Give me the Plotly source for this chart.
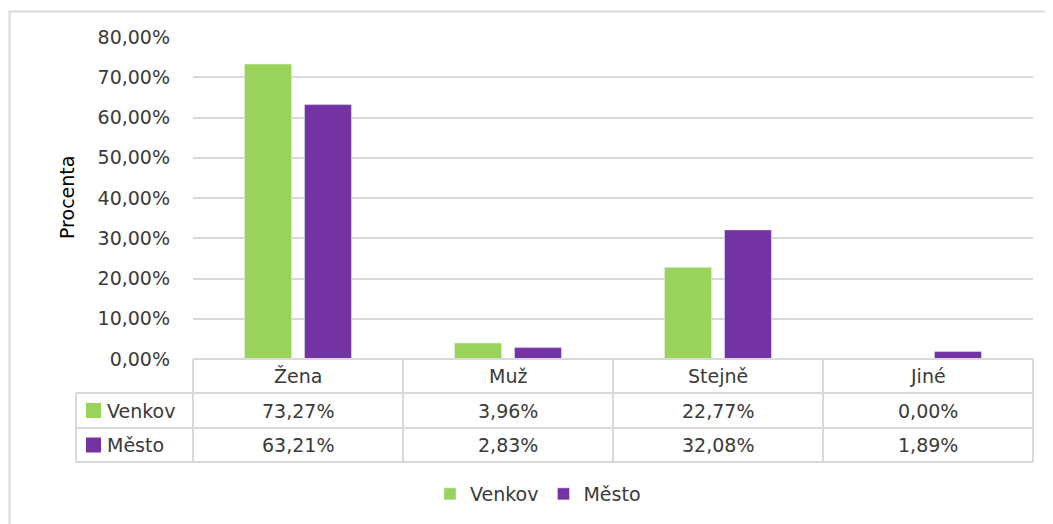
import plotly.graph_objects as go

categories = ["Žena", "Muž", "Stejně", "Jiné"]
venkov = [73.27, 3.96, 22.77, 0.00]
mesto = [63.21, 2.83, 32.08, 1.89]
series_names = ["Venkov", "Město"]
y_ticks = [0, 10, 20, 30, 40, 50, 60, 70, 80]
y_title = "Procenta"

OFF = 8  # page body margin
W, H = 1053 - OFF, 524 - OFF
GREEN = "#99D35B"
PURPLE = "#7433A2"
TXT = "#3A3A3A"
GRID = "#D9D9D9"
FONT = "DejaVu Sans"
FS = 19


def px(x):
    return (x - OFF) / W


def py(y):
    return 1 - (y - OFF) / H


def fmt(v):
    return f"{v:.2f}".replace(".", ",") + "%"


# plot area in reference-pixels
L, R, T, B = 193, 1033, 37, 359
ROW = [359, 393, 428, 462]
KEY_L = 76

fig = go.Figure()
fig.add_trace(go.Bar(x=categories, y=[v / 100 for v in venkov], name=series_names[0],
                     marker_color=GREEN))
fig.add_trace(go.Bar(x=categories, y=[v / 100 for v in mesto], name=series_names[1],
                     marker_color=PURPLE))

shapes = []
annotations = []
line = dict(color=GRID, width=2)
# outer chart border
shapes.append(dict(type="rect", xref="paper", yref="paper", x0=px(9.5), x1=px(1070),
                   y0=py(560), y1=py(11.5), line=line))
# table horizontal lines
shapes.append(dict(type="line", xref="paper", yref="paper", x0=px(L), x1=px(R),
                   y0=py(ROW[0]), y1=py(ROW[0]), line=line))
for yy in ROW[1:]:
    shapes.append(dict(type="line", xref="paper", yref="paper", x0=px(KEY_L), x1=px(R),
                       y0=py(yy), y1=py(yy), line=line))
# vertical lines
ncat = len(categories)
colw = (R - L) / ncat
for i in range(ncat + 1):
    xx = L + i * colw
    shapes.append(dict(type="line", xref="paper", yref="paper", x0=px(xx), x1=px(xx),
                       y0=py(ROW[0]), y1=py(ROW[3]), line=line))
shapes.append(dict(type="line", xref="paper", yref="paper", x0=px(KEY_L), x1=px(KEY_L),
                   y0=py(ROW[1]), y1=py(ROW[3]), line=line))

tfont = dict(family=FONT, size=FS, color=TXT)
# header text
for i, c in enumerate(categories):
    annotations.append(dict(x=px(L + (i + 0.5) * colw), y=py((ROW[0] + ROW[1]) / 2),
                            xref="paper", yref="paper", text=c, showarrow=False,
                            xanchor="center", yanchor="middle", font=tfont))
# rows
for r, (name, vals, col) in enumerate([(series_names[0], venkov, GREEN),
                                        (series_names[1], mesto, PURPLE)]):
    yc = (ROW[r + 1] + ROW[r + 2]) / 2
    shapes.append(dict(type="rect", xref="paper", yref="paper", x0=px(86), x1=px(101),
                       y0=py(yc + 7.5), y1=py(yc - 7.5), line=dict(width=0), fillcolor=col))
    annotations.append(dict(x=px(105), y=py(yc), xref="paper", yref="paper", text=name,
                            showarrow=False, xanchor="left", yanchor="middle", font=tfont))
    for i, v in enumerate(vals):
        annotations.append(dict(x=px(L + (i + 0.5) * colw), y=py(yc), xref="paper",
                                yref="paper", text=fmt(v), showarrow=False,
                                xanchor="center", yanchor="middle", font=tfont))

# y axis title
annotations.append(dict(x=px(67), y=py((T + B) / 2), xref="paper", yref="paper",
                        text=y_title, textangle=-90, showarrow=False,
                        xanchor="center", yanchor="middle",
                        font=dict(family=FONT, size=FS, color="#000000")))

fig.update_layout(
    width=W, height=H,
    margin=dict(l=0, r=0, t=0, b=0, autoexpand=False),
    paper_bgcolor="white", plot_bgcolor="white",
    separators=", ",
    barmode="group", bargap=0.429, bargroupgap=0.217,
    font=tfont,
    xaxis=dict(domain=[px(L), px(R)], range=[-0.5, ncat - 0.5], showticklabels=False,
               showgrid=False, zeroline=False, showline=False, automargin=False),
    yaxis=dict(domain=[py(B), py(T)], range=[0, 0.8], tickvals=[t / 100 for t in y_ticks],
               tickformat=".2%", showgrid=True, gridcolor=GRID, gridwidth=2,
               zeroline=False, showline=False, ticklabelstandoff=22, automargin=False,
               tickfont=tfont),
    showlegend=True,
    legend=dict(orientation="h", x=px(538), xanchor="center", y=py(494), yanchor="middle",
                font=tfont, itemwidth=30, traceorder="normal"),
    shapes=shapes, annotations=annotations,
)

fig.write_html("out.html")
